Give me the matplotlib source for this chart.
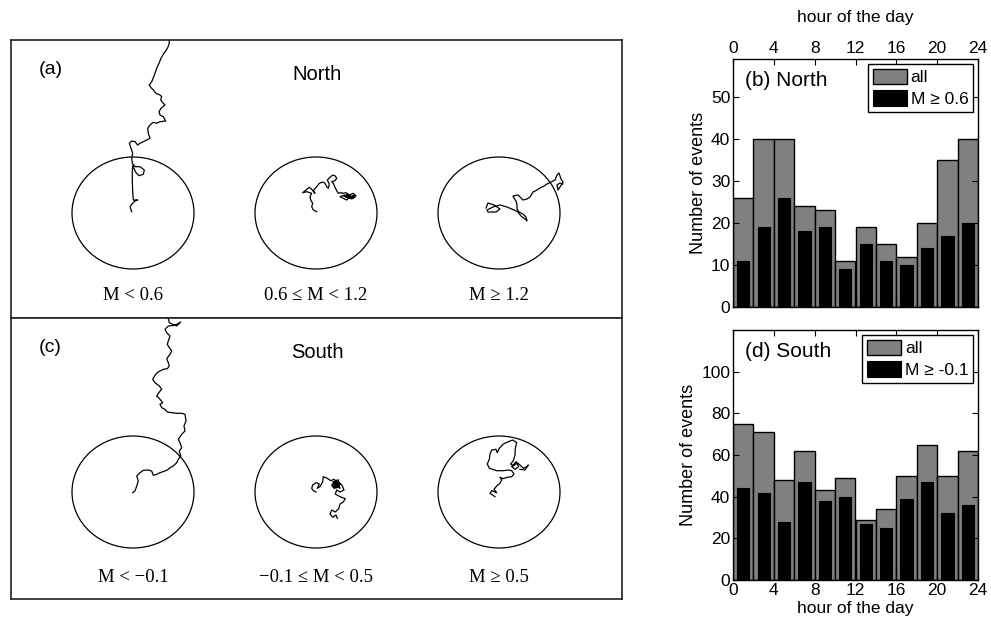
import matplotlib.pyplot as plt
from matplotlib.patches import Ellipse

plt.rcParams['font.family'] = ['Liberation Sans', 'DejaVu Sans']

# -------- HISTOGRAM DATA (2-hour bins) --------
hours = [1, 3, 5, 7, 9, 11, 13, 15, 17, 19, 21, 23]
hour_ticks = [0, 4, 8, 12, 16, 20, 24]

north_all = [26, 40, 40, 24, 23, 11, 19, 15, 12, 20, 35, 40]
north_strong = [11, 19, 26, 18, 19, 9, 15, 11, 10, 14, 17, 20]
south_all = [75, 71, 48, 62, 43, 49, 29, 34, 50, 65, 50, 62]
south_strong = [44, 42, 28, 47, 38, 40, 27, 25, 39, 47, 32, 36]

north_classes = ["M < 0.6", "0.6 \u2264 M < 1.2", "M \u2265 1.2"]
south_classes = ["M < \u22120.1", "\u22120.1 \u2264 M < 0.5", "M \u2265 0.5"]

# -------- TRAJECTORIES (east, north offsets from the circle centre) --------
n1_x = [-1.3, -3, -0.3, 2, 4.7, 0.3, -0.3, -0.7, -0.7, -0.3, 2.7, 6, 10.3, 11.3, 7, 2,
        -0.7, -1.3, -0.3, -2, -3.7, -1.3, 2, 4.7, 7, 10.3, 13.7, 17, 15.3, 14.7, 17,
        20.3, 23.7, 27, 32.7, 30.3, 27, 26, 28, 32, 30.3, 27.7, 28.7, 27, 23, 20.3,
        18, 16.3, 18.7, 20.3, 22, 23.7, 26, 28, 30.3, 32.7, 34.7, 36, 37]
n1_y = [1.3, 6.3, 9.7, 12, 13, 13, 21.3, 31.3, 41.3, 47.3, 40.7, 37.3, 38.7, 43, 46.3,
        46.3, 49.7, 54.7, 59.7, 64.7, 69.7, 72, 71.3, 68, 69.7, 71.3, 73, 74.7, 79.7,
        84.7, 88, 90.7, 89.7, 91.3, 92, 96.3, 98, 101.3, 104.7, 108, 109.7, 113, 116.3,
        118, 119.7, 123, 125.3, 128, 131.3, 135.3, 139.7, 144.7, 149.7, 154.7, 158.7,
        162, 165.3, 168.7, 180]

n2_x = [0.7, -2.7, -4.3, -3.3, -5.3, -6, -4.3, -9.3, -13.3, -10, -6.7, -4.3, -1, -2.7,
        0.7, 3.3, 6.7, 9, 10.7, 12.3, 13.3, 11.3, 14, 16.7, 19.3, 20.7, 19, 15.7, 17.3,
        19, 20.7, 22.3, 24.7, 27.3, 30, 33.3, 37.3, 40, 37.3, 34, 30.7, 27.3, 24, 29,
        35.7, 39, 33, 28, 36, 31, 38]
n2_y = [1.3, 3, 6.3, 9.7, 13, 16.3, 19.7, 21.3, 20.3, 23, 25.7, 23.7, 19.7, 22.3, 26.3,
        29.7, 31, 29.7, 26.3, 24.7, 29, 33, 35.7, 38, 37, 34.7, 32.3, 31.3, 29.7, 25.7,
        22.3, 19.7, 20.3, 19.7, 20.3, 18, 19.7, 17, 14.7, 16.3, 13, 14.7, 16.3, 18,
        16.3, 18, 15, 17, 14, 18.5, 15.5]

n3_x = [-13, -11, -5, 1, -3, -11, -12, -6, 1, 8, 15, 19, 22, 26, 28, 27, 24, 20, 18, 18,
        17, 15, 14, 19, 22, 24, 28, 31, 34, 38, 41, 45, 48, 52, 56, 58, 60, 62, 64, 61,
        59, 58, 61, 64]
n3_y = [5, 10, 8, 4, 1, 1, 3, 6, 8, 6, 3, 1, -3, -6, -8, -4, -1, 1, 4, 8, 12, 15, 17, 18,
        15, 13, 14, 16, 21, 23, 25, 27, 29, 31, 33, 38, 40, 34, 31, 26, 23, 28, 30, 29]

s1_x = [-0.3, 2, 3.7, 5.3, 3.7, 7, 10.3, 15.3, 18.7, 20.3, 23.7, 27, 32, 35.3, 37, 40.3,
        43.7, 45.3, 47.7, 46.3, 48.7, 47, 45.3, 48.7, 52, 51, 53, 52, 48.7, 43.7, 38.7,
        34.3, 32, 28.7, 27, 29.7, 27, 23.7, 26.3, 28.7, 26.3, 22, 19.7, 22, 24.3, 27,
        30.3, 34.3, 36.3, 35.3, 33.7, 37, 38.7, 36.3, 34.3, 35.3, 37, 33.7, 32, 35.3,
        42, 47.7, 43.7, 36.3, 33.7]
s1_y = [-0.7, 1, 6, 11, 16, 19.3, 21.7, 22, 21, 16.7, 17.7, 19.3, 21, 22.7, 24.3, 26,
        29.3, 32.7, 36, 41, 44.3, 49.3, 52.7, 57.7, 61, 66, 71, 77.7, 78.7, 78.7, 79.3,
        80, 82.7, 84.3, 87.7, 89.3, 92.7, 96, 100, 102.7, 106, 109.3, 112.7, 116.7,
        119.3, 121, 122.7, 123.3, 126, 129.3, 133.3, 137.7, 141, 144.3, 147.7, 151,
        156, 159.3, 162.7, 166, 166.7, 170, 166, 169.3, 180]

s2_x = [0, -2.7, -4.3, -3.3, 0, 3.3, 1.3, 4, 6.7, 7.3, 11.3, 14.7, 18, 21.3, 24, 22.3,
        18, 15.7, 18, 22.7, 18, 22.3, 16.7, 20.7, 24, 20, 17, 23, 19, 21.5, 26, 28, 24,
        20.7, 19.3, 24, 29.3, 27.3, 24, 22.7, 19.3, 15.7, 14, 16.7, 20, 21.3]
s2_y = [0, 1.3, 3.7, 7, 9.3, 8, 3.7, 5.3, 10.3, 15.3, 13.7, 11.3, 12.7, 10, 8, 4.7, 3.7,
        7, 10, 12, 8.7, 7, 5.3, 12, 3.7, 6, 10.5, 9.5, 4.5, 11, 6.7, 2, 0, 2, -2, -4.7,
        -6.7, -10, -12, -16.7, -20, -18, -22, -25.3, -23, -26.3]

s3_x = [-4, -9, -7.3, -2.3, -5, -2.3, 1, 2.7, 1, 4.3, 8.3, 12.7, 15, 12.7, 9.3, 4.3,
        -2.3, -9.7, -11.7, -9.7, -9, -7.3, -3, -1.7, 0.3, 4.3, 9.3, 13.7, 17.7, 16.3,
        16, 14.3, 11.7, 14.3, 17.7, 19.7, 16, 12.7, 17, 21, 24.3, 27.7, 29.3, 26, 21]
s3_y = [-4.7, -1.3, 1.3, -0.7, 2.7, 6, 8.7, 12, 14.7, 13.3, 14.7, 15.3, 18, 21.3, 22,
        21.3, 21.3, 23.7, 28, 32.7, 38, 42, 42.7, 39.3, 43.7, 48, 50.3, 52, 49.3, 43.7,
        37, 31.3, 28, 26, 28.7, 25.3, 22.7, 25.3, 30.3, 27, 23.7, 25.3, 27, 22, 22.7]

north_tracks = [(n1_x, n1_y), (n2_x, n2_y), (n3_x, n3_y)]
south_tracks = [(s1_x, s1_y), (s2_x, s2_y), (s3_x, s3_y)]

fig = plt.figure(figsize=(9.91, 6.25), dpi=100)


# -------- LEFT: trajectories inside circles --------
def draw_tracks(rect, height, cy, tag, title, tracks, classes):
    ax = fig.add_axes(rect)
    ax.set_xlim(0, 611)
    ax.set_ylim(0, height)
    ax.set_xticks([])
    ax.set_yticks([])
    for s in ax.spines.values():
        s.set_linewidth(1.2)
        s.set_color('#222222')
    centres = [122, 305, 488]
    for cx, (tx, ty), lab in zip(centres, tracks, classes):
        ax.add_patch(Ellipse((cx, cy), 122, 112, fill=False, lw=0.9, color='black'))
        ax.plot([cx + v for v in tx], [cy + v for v in ty], color='black', lw=0.9)
        ax.text(cx, 22, lab, ha='center', va='center', fontsize=13.5,
                family=['Liberation Serif', 'DejaVu Serif'])
    ax.text(28, height - 30, tag, fontsize=14, va='center')
    ax.text(306, height - 35, title, fontsize=14.5, ha='center', va='center')
    return ax


draw_tracks([11 / 991, 1 - 318 / 625, 611 / 991, 278 / 625], 278, 105, "(a)", "North",
            north_tracks, north_classes)
draw_tracks([11 / 991, 1 - 599 / 625, 611 / 991, 281 / 625], 281, 107, "(c)", "South",
            south_tracks, south_classes)


# -------- RIGHT: hour-of-day histograms --------
def draw_hist(rect, all_vals, strong_vals, ymax, ystep, tag, strong_label, top):
    ax = fig.add_axes(rect)
    ax.bar(hours, all_vals, width=2, color='#808080', edgecolor='black', lw=1,
           label='all')
    ax.bar(hours, strong_vals, width=1.2, color='black', edgecolor='black', lw=0.8,
           label=strong_label)
    ax.set_xlim(0, 24)
    ax.set_ylim(0, ymax)
    ax.set_xticks(hour_ticks)
    ax.set_yticks(range(0, ymax, ystep))
    ax.tick_params(direction='in', top=True, right=True, labelsize=12.5, length=4,
                   labeltop=top, labelbottom=not top, pad=2)
    for s in ax.spines.values():
        s.set_linewidth(1.0)
    if top:
        ax.xaxis.set_label_position('top')
        ax.set_xlabel("hour of the day", fontsize=12.5, labelpad=14)
    else:
        ax.set_xlabel("hour of the day", fontsize=12.5, labelpad=2)
    ax.set_ylabel("Number of events", fontsize=13, labelpad=3)
    ax.text(0.05, 0.915, tag, transform=ax.transAxes, fontsize=15, va='center')
    leg = ax.legend(loc='upper right', fontsize=12.5, frameon=True, fancybox=False,
                    edgecolor='black', framealpha=1, handlelength=2.0,
                    handleheight=1.0, handletextpad=0.2, borderpad=0.25,
                    labelspacing=0.3, borderaxespad=0.3)
    leg.get_frame().set_linewidth(1.0)
    return ax


draw_hist([733 / 991, 1 - 307 / 625, 245 / 991, 248 / 625], north_all, north_strong,
          59, 10, "(b) North", "M \u2265 0.6", True)
draw_hist([733 / 991, 1 - 580 / 625, 245 / 991, 250 / 625], south_all, south_strong,
          120, 20, "(d) South", "M \u2265 -0.1", False)

fig.savefig("out.png", dpi=100)
